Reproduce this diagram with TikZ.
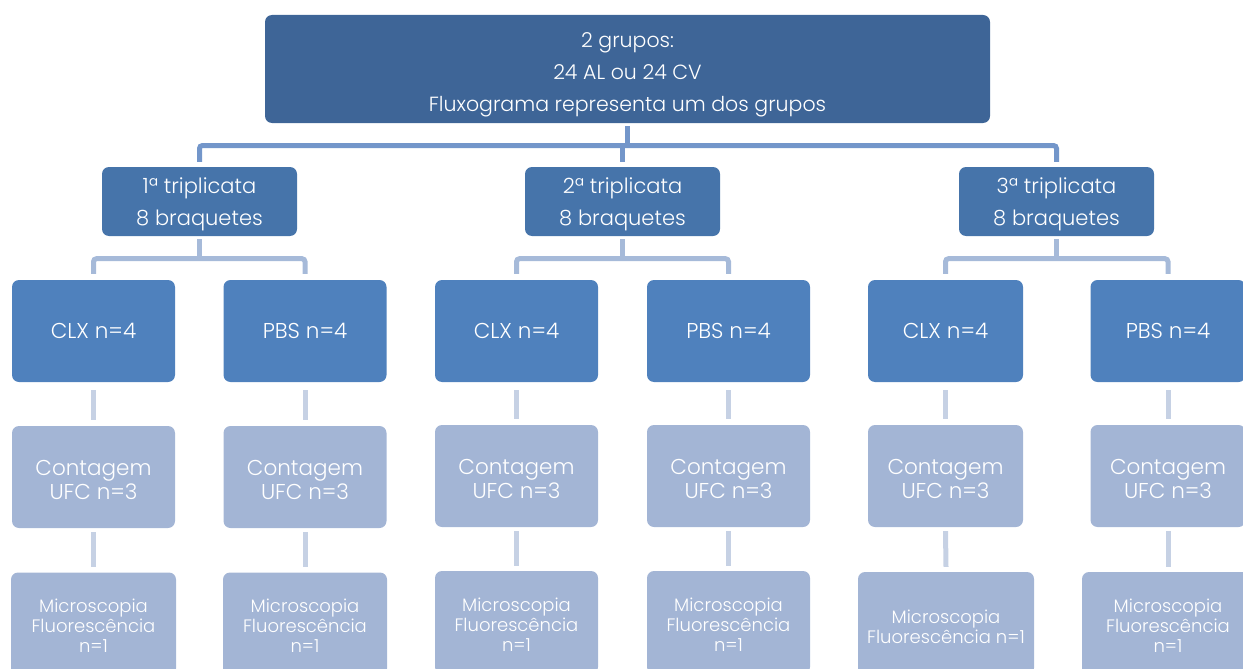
\documentclass[tikz,border=0pt]{standalone}
\usepackage{fontspec}
\setmainfont{Poppins}[UprightFont=* Light]
\usetikzlibrary{calc}

\definecolor{topblue}{HTML}{3E6597}
\definecolor{tripblue}{HTML}{4674AA}
\definecolor{midblue}{HTML}{4F81BD}
\definecolor{paleblue}{HTML}{A3B5D5}
\definecolor{lineA}{HTML}{7396CA}
\definecolor{lineB}{HTML}{A6BAD9}
\definecolor{lineC}{HTML}{C6D1E4}

\tikzset{
  box/.style={draw=none, rectangle, rounded corners=7pt, inner sep=0pt, anchor=center},
  topbox/.style={box, fill=topblue, minimum width=725pt, minimum height=108pt},
  tripbox/.style={box, fill=tripblue, minimum width=195pt, minimum height=69pt},
  agentbox/.style={box, fill=midblue, minimum width=163pt, minimum height=102pt},
  countbox/.style={box, fill=paleblue, minimum width=163pt, minimum height=102pt},
  microbox/.style={box, fill=paleblue, minimum height=103pt},
  txt/.style={text=white, align=center, inner sep=0pt, anchor=center},
  toptext/.style={txt, font=\fontsize{20.5}{32}\selectfont},
  triptext/.style={txt, font=\fontsize{21}{32}\selectfont},
  agenttext/.style={txt, font=\fontsize{21.5}{24}\selectfont},
  counttext/.style={txt, font=\fontsize{21.5}{24}\selectfont},
  microtext/.style={txt, font=\fontsize{18}{20}\selectfont},
  conA/.style={draw=lineA, line width=5pt, rounded corners=3pt},
  conB/.style={draw=lineB, line width=5pt, rounded corners=3pt},
  conC/.style={draw=lineC, line width=5pt},
}

\begin{document}
\begin{tikzpicture}[x=1pt, y=-1pt]
\useasboundingbox (0,0) rectangle (1243,669);
\clip (0,0) rectangle (1243,669);

% top level
\node[topbox] (top) at (627.5,69) {};
\node[toptext] (topl) at ([yshift=-6pt]top.center)
  {2 grupos:\\24 AL ou 24 CV\\Fluxograma representa um dos grupos};

% triplicates
\node[tripbox] (t1) at (199.5,201.5) {};
\node[tripbox] (t2) at (622.5,201.5) {};
\node[tripbox] (t3) at (1056.5,201.5) {};
\foreach \i in {1,2,3}
  \node[triptext] (t\i l) at ([yshift=-3pt]t\i.center) {\i ª triplicata\\8 braquetes};

% treatments
\node[agentbox] (a1) at (93.5,331) {};
\node[agentbox] (a2) at (305,331) {};
\node[agentbox] (a3) at (516.5,331) {};
\node[agentbox] (a4) at (728.5,331) {};
\node[agentbox, minimum width=155pt] (a5) at (945.5,331) {};
\node[agentbox, minimum width=155pt] (a6) at (1168,331) {};
\foreach \i/\name in {1/CLX,2/PBS,3/CLX,4/PBS,5/CLX,6/PBS}
  \node[agenttext] (a\i l) at (a\i.center) {\name\ n=4};

% colony counts
\node[countbox] (c1) at (93.5,477) {};
\node[countbox] (c2) at (305,477) {};
\node[countbox] (c3) at (516.5,476) {};
\node[countbox] (c4) at (728.5,476) {};
\node[countbox, minimum width=155pt] (c5) at (945.5,476) {};
\node[countbox, minimum width=155pt] (c6) at (1168,476) {};
\foreach \i in {1,...,6}
  \node[counttext] (c\i l) at ([yshift=-2.5pt]c\i.center) {Contagem\\UFC n=3};

% fluorescence microscopy
\node[microbox, minimum width=165pt] (m1) at (93.5,624) {};
\node[microbox, minimum width=164pt] (m2) at (305,624) {};
\node[microbox, minimum width=163pt] (m3) at (516.5,622.5) {};
\node[microbox, minimum width=163pt] (m4) at (728.5,622.5) {};
\node[microbox, minimum width=176pt] (m5) at (946,623.5) {};
\node[microbox, minimum width=172pt] (m6) at (1168,623.5) {};
\foreach \i in {1,2,3,4,6}
  \node[microtext] (m\i l) at ([yshift=-2pt]m\i.center) {Microscopia\\Fluorescência\\n=1};
\node[microtext] (m5l) at ([yshift=-3pt]m5.center) {Microscopia\\Fluorescência n=1};

% connectors: top box to triplicates
\coordinate (b0) at (627.5,145.5);
\draw[conA] ([yshift=-3pt]top.south) -- (top.south |- b0);
\draw[conA] ([yshift=5pt]t1.north) -- (t1.north |- b0) -- (t3.north |- b0) -- ([yshift=5pt]t3.north);
\draw[conA] (t2.north |- b0) -- ([yshift=5pt]t2.north);

% connectors: triplicates to treatments
\foreach \t/\l/\r in {t1/a1/a2, t2/a3/a4, t3/a5/a6}{
  \path (\t.south) ++(0,22.5) coordinate (j\t);
  \draw[conB] ([yshift=-3pt]\t.south) -- (j\t);
  \draw[conB] ([yshift=6pt]\l.north) -- (\l.north |- j\t) -- (\r.north |- j\t) -- ([yshift=6pt]\r.north);
}

% connectors: treatments to counts to microscopy
\foreach \i in {1,...,6}{
  \draw[conC] ([yshift=-8pt]a\i.south) -- ([yshift=6pt]c\i.north);
  \draw[conC] ([yshift=-4pt]c\i.south) -- ([yshift=5pt]m\i.north);
}
\end{tikzpicture}
\end{document}
